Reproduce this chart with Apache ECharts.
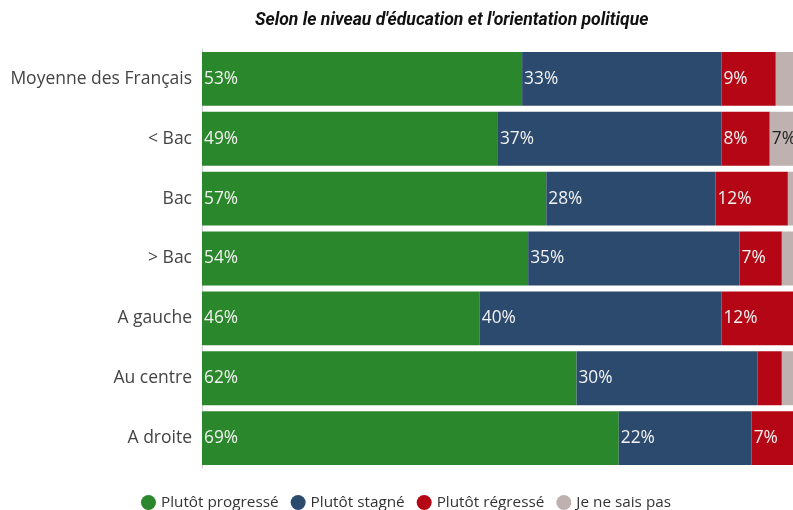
<!DOCTYPE html>
<html><head><meta charset="utf-8">
<script src="https://cdn.jsdelivr.net/npm/echarts@6/dist/echarts.min.js"></script>
<style>html,body{margin:0;padding:0;overflow:hidden;background:#fff;width:793px;height:510px}#c{width:812px;height:510px}</style>
</head><body><div id="c"></div>
<script>
const categories = ["Moyenne des Français", "< Bac", "Bac", "> Bac", "A gauche", "Au centre", "A droite"];
const progresse = [53, 49, 57, 54, 46, 62, 69];
const stagne = [33, 37, 28, 35, 40, 30, 22];
const regresse = [9, 8, 12, 7, 12, 4, 7];
const nsp = [5, 7, 3, 4, 2, 4, 2];
const seriesNames = ["Plutôt progressé", "Plutôt stagné", "Plutôt régressé", "Je ne sais pas"];
const colors = ["#2b872b", "#2c4a6e", "#b40614", "#bfb1b0"];
const labelColors = ["#f2f2f2", "#f2f2f2", "#f2f2f2", "#222"];
const values = [progresse, stagne, regresse, nsp];

const chart = echarts.init(document.getElementById('c'));
chart.setOption({
  animation: false,
  title: {
    text: "Selon le niveau d'éducation et l'orientation politique",
    left: 250, top: 7,
    textStyle: {fontFamily: 'Roboto', fontStyle: 'italic', fontWeight: 'bold', fontSize: 17.6, color: '#111'}
  },
  legend: {
    top: 490, left: 'center', padding: 5,
    icon: 'circle', itemWidth: 15, itemHeight: 15, itemGap: 12,
    textStyle: {fontFamily: 'Open Sans', fontSize: 15.3, color: '#333'},
    data: seriesNames
  },
  grid: {left: 202, right: 6, top: 49, bottom: 42},
  xAxis: {type: 'value', min: 0, max: 100, show: false},
  yAxis: {
    type: 'category', data: categories, inverse: true,
    axisLine: {show: true, lineStyle: {color: '#d0d0d0', width: 1}},
    axisTick: {show: false},
    axisLabel: {fontFamily: 'Open Sans', fontSize: 17.5, color: '#444', margin: 10}
  },
  series: values.map((arr, i) => ({
    name: seriesNames[i], type: 'bar', stack: 'total',
    barCategoryGap: '10%',
    itemStyle: {color: colors[i]},
    label: {
      show: true, position: 'insideLeft', distance: 2,
      fontFamily: 'Open Sans', fontSize: 17.3, color: labelColors[i],
      formatter: p => p.value >= 6 ? p.value + '%' : ''
    },
    data: arr
  }))
});
</script></body></html>
